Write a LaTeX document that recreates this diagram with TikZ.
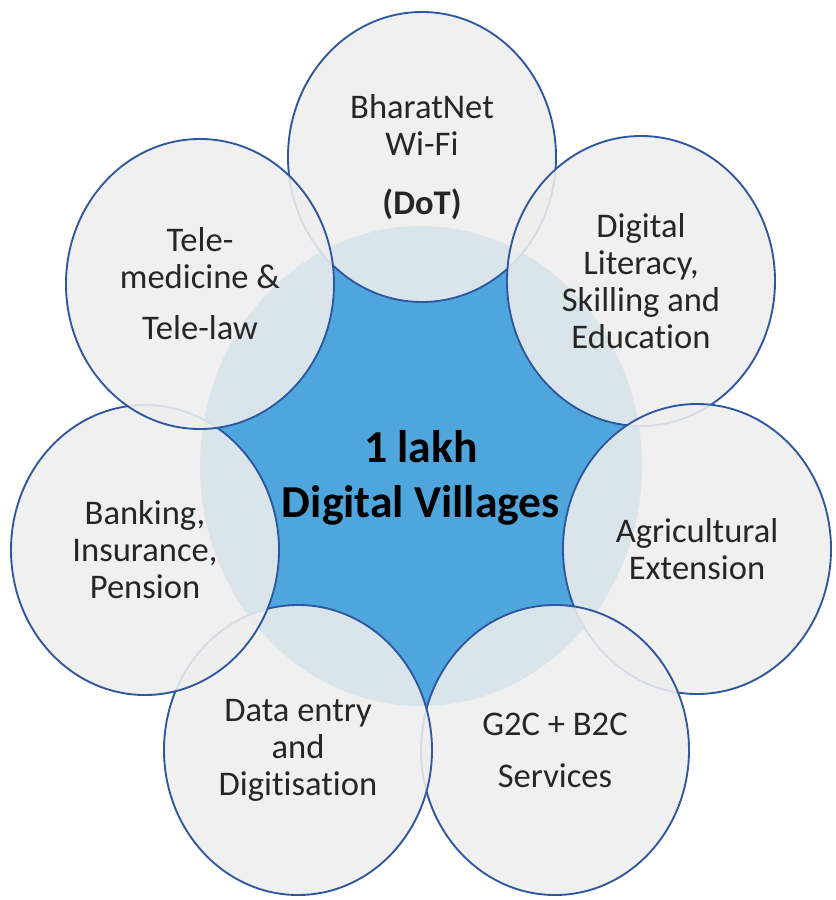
\documentclass[tikz,border=0pt]{standalone}
\usepackage{fontspec}
\setmainfont{Carlito}[Ligatures=NoCommon]
\usetikzlibrary{shapes.geometric}

\definecolor{hubblue}{RGB}{78,166,220}
\definecolor{rimblue}{RGB}{47,87,160}
\definecolor{bubblegray}{RGB}{238,238,238}

\begin{document}
\begin{tikzpicture}[x=0.03cm, y=-0.03cm,
  bubble/.style={ellipse, draw=rimblue, line width=1.6pt, fill=bubblegray,
    fill opacity=0.88, text opacity=1, minimum width=8.04cm, minimum height=8.7cm,
    inner sep=0pt, align=center, text=black!85, font=\fontsize{29.5}{31.5}\selectfont},
  hub/.style={ellipse, fill=hubblue, minimum width=13.26cm, minimum height=14.4cm,
    inner sep=0pt}]

\useasboundingbox (0,0) rectangle (835,900);

\node[hub] (hub) at (421,466) {};
\node[align=center, font=\fontsize{39}{47}\selectfont\bfseries] (title) at (421,478)
  {1 lakh\\Digital Villages};

% ring of bubbles, clockwise from the top, each one over the last
\node[bubble] (net)    at (422,157) {BharatNet\\Wi-Fi\\[19pt]\textbf{(DoT)}};
\node[bubble] (skill)  at (641,281) {Digital\\Literacy,\\Skilling and\\Education};
\node[bubble] (agri)   at (697,549) {Agricultural\\Extension};
\node[bubble] (g2c)    at (555,750) {G2C + B2C\\[13pt]Services};
\node[bubble] (data)   at (298,750) {Data entry\\and\\Digitisation};
\node[bubble] (bank)   at (145,550) {Banking,\\Insurance,\\Pension};
\node[bubble] (tele)   at (200,284) {Tele-\\medicine \&\\[12pt]Tele-law};

\end{tikzpicture}
\end{document}
